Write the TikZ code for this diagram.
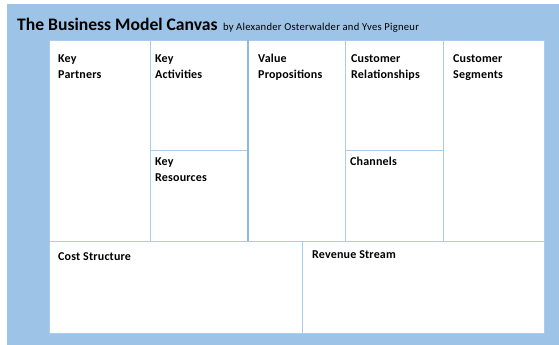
\documentclass[tikz,border=0pt]{standalone}
\usepackage{fontspec}
\setmainfont{Carlito}
\definecolor{canvasblue}{RGB}{157,195,230}
\definecolor{gridblue}{RGB}{170,204,236}
\definecolor{splitblue}{RGB}{140,184,228}
\begin{document}
\begin{tikzpicture}[x=1pt,y=-1pt,
  cell/.style={draw=gridblue,line width=0.8pt,fill=white},
  cellcap/.style={anchor=base west,inner sep=0pt,align=left,font=\fontsize{12}{16}\selectfont\bfseries,
    execute at begin node={\addfontfeatures{LetterSpace=1.5}}},
  headline/.style={anchor=base west,inner sep=0pt,font=\fontsize{17.6}{20}\selectfont\bfseries},
  byline/.style={anchor=base west,inner sep=0pt,font=\fontsize{10.6}{12}\selectfont,
    execute at begin node={\addfontfeatures{LetterSpace=2.5}}}]
% page and blue backdrop
\useasboundingbox (0,0) rectangle (559,345);
\fill[white] (0,0) rectangle (559,345);
\fill[canvasblue] (7,4) rectangle (559,345);
% title line
\node[headline] (ttl) at (17,31) {The Business Model Canvas};
\node[byline] (by) at (ttl.base east) [xshift=5pt] {by Alexander Osterwalder and Yves Pigneur};
% canvas cells
\draw[cell] (49,40) rectangle (150,241);
\draw[cell] (150,40) rectangle (248,150);
\draw[cell] (150,150) rectangle (248,241);
\draw[cell] (248,40) rectangle (345,241);
\draw[cell] (345,40) rectangle (443,150);
\draw[cell] (345,150) rectangle (443,241);
\draw[cell] (443,40) rectangle (544,241);
\draw[cell] (49,241) rectangle (302,333);
\draw[cell] (302,241) rectangle (544,333);
\draw[splitblue,line width=1.2pt] (248,40) -- (248,241);
% cell captions (anchored on the baseline of the last line)
\node[cellcap] (kp) at (58,78) {Key\\Partners};
\node[cellcap] (ka) at (155,78) {Key\\Activities};
\node[cellcap] (kr) at (155,181) {Key\\Resources};
\node[cellcap] (vp) at (258,78) {Value\\Propositions};
\node[cellcap] (cr) at (351,78) {Customer\\Relationships};
\node[cellcap] (ch) at (350,165) {Channels};
\node[cellcap] (cs) at (453,78) {Customer\\Segments};
\node[cellcap] (co) at (58,260) {Cost Structure};
\node[cellcap] (rs) at (312,258) {Revenue Stream};
\end{tikzpicture}
\end{document}
